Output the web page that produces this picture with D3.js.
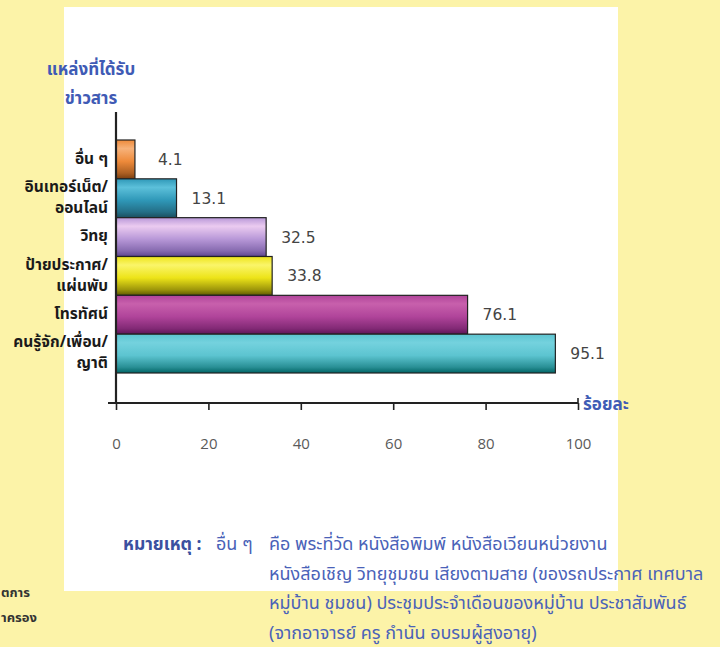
<!DOCTYPE html>
<html><head><meta charset="utf-8">
<script src="https://cdn.jsdelivr.net/npm/d3@7"></script>
<style>
html,body{margin:0;padding:0;background:#FCF3A8;}
svg{display:block;}
</style></head>
<body>
<svg id="chart" width="720" height="647"></svg>
<script>
// ---- data ----
const categories = ["อื่น ๆ", "อินเทอร์เน็ต/\nออนไลน์", "วิทยุ", "ป้ายประกาศ/\nแผ่นพับ", "โทรทัศน์", "คนรู้จัก/เพื่อน/\nญาติ"];
const values = [4.1, 13.1, 32.5, 33.8, 76.1, 95.1];
const barColors = [
  ["#F7B27A", "#EE8A3A", "#7A3E10"],
  ["#5CC0DA", "#2F98B8", "#1B4E5E"],
  ["#EBCBF0", "#B898D8", "#5E4690"],
  ["#FAF56A", "#EDE418", "#5E5800"],
  ["#C860AC", "#B0449A", "#5E1458"],
  ["#74D2DE", "#5CC4D0", "#006464"]
];
const xTicks = [0, 20, 40, 60, 80, 100];
const yTitle = ["แหล่งที่ได้รับ", "ข่าวสาร"];
const xTitle = "ร้อยละ";
const noteLabel = "หมายเหตุ :";
const noteKey = "อื่น ๆ";
const noteLines = [
  "คือ พระที่วัด หนังสือพิมพ์ หนังสือเวียนหน่วยงาน",
  "หนังสือเชิญ วิทยุชุมชน เสียงตามสาย (ของรถประกาศ เทศบาล",
  "หมู่บ้าน ชุมชน) ประชุมประจำเดือนของหมู่บ้าน ประชาสัมพันธ์",
  "(จากอาจารย์ ครู กำนัน อบรมผู้สูงอายุ)"
];
const sideFragments = ["ตการ", "าครอง"];

// ---- drawing ----
const svg = d3.select("#chart");
const thai = "'Noto Sans Thai','Noto Sans Thai UI','Tahoma','Garuda','Loma','Noto Sans',sans-serif";

svg.append("rect").attr("x",0).attr("y",0).attr("width",720).attr("height",647).attr("fill","#FCF3A8");
svg.append("rect").attr("x",64).attr("y",7).attr("width",554).attr("height",584).attr("fill","#ffffff");

const x = d3.scaleLinear().domain([0,100]).range([116,578]);
const y = d3.scaleBand().domain(d3.range(categories.length)).range([140,373]).paddingInner(0);

const defs = svg.append("defs");
barColors.forEach((c,i)=>{
  const g = defs.append("linearGradient").attr("id","g"+i).attr("x1",0).attr("y1",0).attr("x2",0).attr("y2",1);
  g.append("stop").attr("offset","0%").attr("stop-color",c[1]);
  g.append("stop").attr("offset","22%").attr("stop-color",c[0]);
  g.append("stop").attr("offset","55%").attr("stop-color",c[1]);
  g.append("stop").attr("offset","85%").attr("stop-color",d3.interpolateRgb(c[1],c[2])(0.55));
  g.append("stop").attr("offset","100%").attr("stop-color",c[2]);
});

// bars
svg.append("g").selectAll("rect").data(values).join("rect")
  .attr("x", x(0))
  .attr("y", (d,i)=>y(i))
  .attr("width", d=>x(d)-x(0))
  .attr("height", y.bandwidth())
  .attr("fill", (d,i)=>"url(#g"+i+")")
  .attr("stroke", "#222").attr("stroke-width", 1.2);

// value labels
svg.append("g").selectAll("text").data(values).join("text")
  .attr("x", d=>Math.max(x(d)+15, x(0)+42))
  .attr("y", (d,i)=>y(i)+y.bandwidth()/2+1)
  .attr("dominant-baseline","middle")
  .attr("font-family","'DejaVu Sans',Verdana,sans-serif")
  .attr("font-size",15.5)
  .attr("fill","#444")
  .text(d=>d.toFixed(1));

// category labels
const cat = svg.append("g").selectAll("text").data(categories).join("text")
  .attr("text-anchor","end")
  .attr("font-family",thai).attr("font-weight","bold")
  .attr("font-size",15.5).attr("fill","#1a1a1a");
cat.each(function(d,i){
  const lines = d.split("\n");
  const cy = y(i)+y.bandwidth()/2;
  const t = d3.select(this);
  lines.forEach((ln,j)=>{
    t.append("tspan").attr("x",108)
      .attr("y", cy + (j-(lines.length-1)/2)*21)
      .attr("dominant-baseline","middle")
      .text(ln);
  });
});

// axes
const xAxis = d3.axisBottom(x).tickValues(xTicks).tickSize(7).tickPadding(28).tickFormat(d3.format("d"));
const ax = svg.append("g").attr("transform","translate(0,403)").call(xAxis);
ax.select(".domain").remove();
ax.selectAll(".tick line").attr("stroke","#222").attr("stroke-width",1.6);
ax.selectAll(".tick text").attr("font-family","'Open Sans',sans-serif").attr("font-size",15).attr("fill","#5a5a5a");
svg.append("line").attr("x1",108).attr("x2",x(100)).attr("y1",403).attr("y2",403).attr("stroke","#222").attr("stroke-width",2.2);
svg.append("line").attr("x1",x(100)).attr("x2",x(100)).attr("y1",398).attr("y2",403).attr("stroke","#222").attr("stroke-width",1.6);
svg.append("line").attr("x1",x(0)).attr("x2",x(0)).attr("y1",112).attr("y2",404).attr("stroke","#222").attr("stroke-width",2.2);

// titles
const yt = svg.append("text").attr("text-anchor","middle")
  .attr("font-family",thai).attr("font-weight","bold").attr("font-size",17).attr("fill","#3F5BB5");
yTitle.forEach((t,j)=>yt.append("tspan").attr("x",91).attr("y",70+j*29).attr("dominant-baseline","middle").text(t));
svg.append("text").attr("x",583).attr("y",405).attr("dominant-baseline","middle")
  .attr("font-family",thai).attr("font-weight","bold").attr("font-size",17).attr("fill","#3F5BB5").text(xTitle);

// note
svg.append("text").attr("x",123).attr("y",545).attr("dominant-baseline","middle")
  .attr("font-family",thai).attr("font-weight","bold").attr("font-size",17.5).attr("fill","#3B50A0").text(noteLabel);
svg.append("text").attr("x",216).attr("y",545).attr("dominant-baseline","middle")
  .attr("font-family",thai).attr("font-size",18).attr("fill","#4A62B8").text(noteKey);
svg.append("g").selectAll("text").data(noteLines).join("text")
  .attr("x",269).attr("y",(d,i)=>545+i*29.5).attr("dominant-baseline","middle")
  .attr("font-family",thai).attr("font-size",18).attr("fill","#4A62B8").text(d=>d);

// cropped side fragments
svg.append("g").selectAll("text").data(sideFragments).join("text")
  .attr("x",1).attr("y",(d,i)=>593+i*25).attr("dominant-baseline","middle")
  .attr("font-family",thai).attr("font-weight","bold").attr("font-size",13).attr("fill","#333").text(d=>d);
</script>
</body></html>
